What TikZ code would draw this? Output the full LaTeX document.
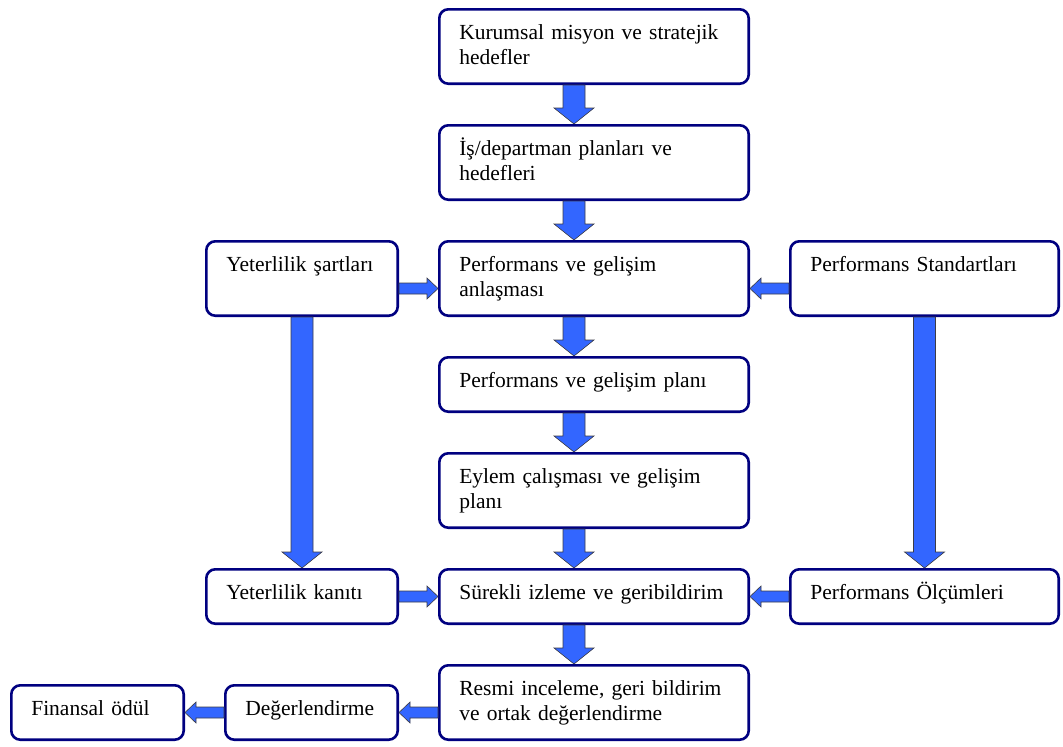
\documentclass[tikz,border=0pt]{standalone}
\usepackage{fontspec}
\setmainfont{Liberation Serif}
\usetikzlibrary{positioning, calc}

\definecolor{boxline}{RGB}{0,0,128}
\definecolor{arrowfill}{RGB}{51,102,255}
\definecolor{arrowline}{RGB}{60,60,70}

\tikzset{
  blk/.style={draw=boxline, line width=2.6pt, rounded corners=9pt, fill=white,
    inner xsep=20pt, inner ysep=0pt, align=left, text height=30pt,
    font=\fontsize{21.5}{25}\selectfont},
  tall/.style={text depth=44.4pt},
  short/.style={text depth=24.4pt},
  mid/.style={text width=269.4pt},
  lside/.style={text width=151.4pt},
  rside/.style={text width=228.4pt},
  low/.style={text width=132.4pt},
  fat/.style={fill=arrowfill, draw=arrowline, line width=0.6pt, line join=miter}
}

% block arrow: from, to, half shaft, half head, head length
\newcommand\blockarrow[5]{%
  \filldraw[fat] let \p1=(#1), \p2=(#2), \n1={veclen(\x2-\x1,\y2-\y1)} in
    [shift={(\p1)}, rotate={atan2(\y2-\y1,\x2-\x1)}]
    (0pt,-#3) -- (\n1-#5,-#3) -- (\n1-#5,-#4) -- (\n1+0pt,0pt)
    -- (\n1-#5,#4) -- (\n1-#5,#3) -- (0pt,#3) -- cycle;}
\newcommand\vfat[2]{\blockarrow{#1}{#2}{11pt}{20pt}{16pt}}
\newcommand\hfat[2]{\blockarrow{#1}{#2}{5.5pt}{10.5pt}{11pt}}

\begin{document}
\begin{tikzpicture}[node distance=39pt]
   \useasboundingbox (0,0) rectangle (1063pt,-747pt);

   \node[blk, tall, mid, anchor=north west] (b1) at (438pt,-8pt)
      {Kurumsal misyon ve stratejik\\hedefler};
   \node[blk, tall, mid] (b2) [below=of b1] {İş/departman planları ve\\hedefleri};
   \node[blk, tall, mid] (b3) [below=of b2] {Performans ve gelişim\\anlaşması};
   \node[blk, short, mid] (b4) [below=of b3] {Performans ve gelişim planı};
   \node[blk, tall, mid] (b5) [below=of b4] {Eylem çalışması ve gelişim\\planı};
   \node[blk, short, mid] (b6) [below=of b5] {Sürekli izleme ve geribildirim};
   \node[blk, tall, mid] (b7) [below=of b6] {Resmi inceleme, geri bildirim\\ve ortak değerlendirme};

   \node[blk, tall, lside] (sart) [left=of b3] {Yeterlilik şartları};
   \node[blk, short, lside] (kanit) [left=of b6] {Yeterlilik kanıtı};
   \node[blk, tall, rside] (std) [right=of b3] {Performans Standartları};
   \node[blk, short, rside] (olcum) [right=of b6] {Performans Ölçümleri};
   \node[blk, short, low] (deger) [left=of b7.south west, anchor=south east] {Değerlendirme};
   \node[blk, short, low] (odul) [left=of deger] {Finansal ödül};

   \foreach \a/\b in {b1/b2, b2/b3, b3/b4, b4/b5, b5/b6, b6/b7}
      \vfat{[xshift=-20pt]\a.south}{[xshift=-20pt]\b.north};
   \vfat{sart.south}{kanit.north}
   \vfat{std.south}{olcum.north}

   \hfat{[yshift=-10pt]sart.east}{[yshift=-10pt]b3.west}
   \hfat{[yshift=-10pt]std.west}{[yshift=-10pt]b3.east}
   \hfat{kanit.east}{b6.west}
   \hfat{olcum.west}{b6.east}
   \hfat{deger.east -| b7.west}{deger.east}
   \hfat{deger.west}{odul.east}
\end{tikzpicture}
\end{document}
